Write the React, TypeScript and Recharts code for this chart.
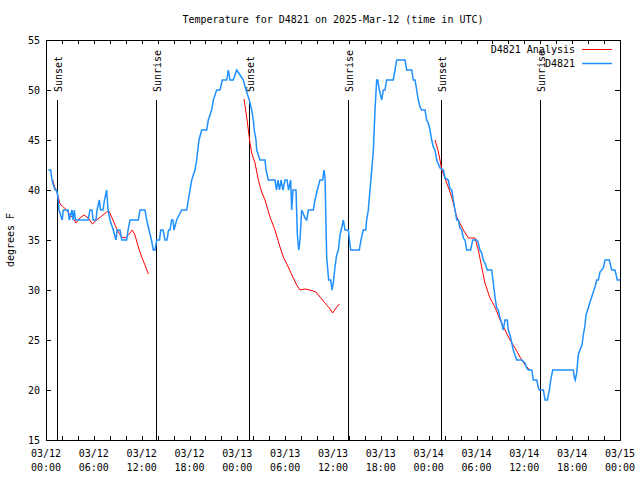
import React from 'react';
import { LineChart, Line, XAxis, YAxis, ReferenceArea, ReferenceLine } from 'recharts';

// ---- data ----
const obsHours = [0.29,0.59,0.75,1.13,1.34,1.54,1.63,2.04,2.17,2.76,2.92,3.26,3.39,3.55,3.70,5.27,5.52,5.77,5.90,6.27,6.40,6.69,6.84,7.15,7.34,7.61,7.78,8.03,8.44,8.78,8.91,9.28,9.50,10.12,10.29,10.54,11.58,11.79,12.42,12.63,12.92,13.23,13.46,13.67,13.89,14.24,14.39,14.68,14.93,15.18,15.37,15.55,15.76,15.93,16.06,16.39,17.02,17.65,17.85,18.28,18.69,18.90,19.19,19.53,20.16,20.36,20.78,20.99,21.41,21.83,22.11,22.67,22.87,23.08,23.49,23.92,24.34,24.75,25.09,25.50,25.80,26.00,26.13,26.34,26.43,26.84,27.47,27.60,27.88,28.72,28.91,29.10,29.29,29.48,29.73,29.98,30.23,30.42,30.69,30.82,30.98,31.36,31.53,31.70,31.86,32.07,32.24,32.49,32.70,32.91,33.53,33.74,34.03,34.37,34.71,34.87,35.00,35.21,35.46,35.71,35.88,36.04,36.25,36.46,36.67,36.88,37.09,37.30,37.51,37.92,38.22,39.30,39.51,39.80,40.10,40.22,40.43,40.64,40.86,41.06,41.27,41.48,41.61,41.81,42.11,42.31,42.52,42.73,43.56,43.78,43.99,45.03,45.25,45.87,46.07,46.29,46.50,46.70,46.91,47.13,47.54,47.75,47.95,48.17,48.38,48.58,48.80,49.01,49.42,49.84,50.05,50.46,50.68,50.89,51.09,51.30,51.52,51.72,51.93,52.14,52.35,52.56,52.77,53.27,53.52,54.02,54.19,54.43,54.65,54.85,55.06,55.35,55.90,56.11,56.32,56.53,56.73,56.95,57.16,57.36,57.57,57.86,57.99,58.20,58.41,58.61,59.04,59.66,60.08,60.29,60.50,60.93,61.13,61.56,61.77,61.89,62.39,62.60,62.89,63.14,63.31,63.56,66.14,66.27,66.39,66.57,66.77,66.98,67.23,67.40,67.61,67.74,68.02,68.24,68.45,68.65,68.86,69.08,69.28,69.49,69.70,69.91,70.12,70.66,70.96,71.37,71.66,72.0];
const obsTemps = [42,42,41,40,40,39,38,37,38,38,37,38,37,38,37,37,38,38,37,37,38,39,38,38,39,40,38,37,36,35,36,36,35,35,36,37,37,38,38,37,36,35,34,34,35,35,36,36,35,35,36,36,37,37,36,37,38,38,39,41,42,43,45,46,46,47,48,49,50,50,51,51,52,51,51,52,51.5,51,50,49,48,47,46,45,44,43,43,42,41,41,40,41,40,41,40,41,41,40,41,38,40,40,35.5,34,35,38,37.7,37.2,37,38,38,39,40,41,41,42,41.3,33.2,31,31,30,30.7,32.3,33.5,34,35.5,36.2,37,36,36,34,34,35,36,36,37,38,40,42,44,48,51,51,50,49,50,50,51,51,52,53,53,52,52,51,51,50,49,48.3,48,48,47,46.7,46,45,44.3,44,43,42.2,42,41.2,41,40.1,40,39,38,37,37,36.2,36,35.2,35,34,34,35,35,34.8,34,33.7,33,32.7,32,32,30.7,29.3,28.2,28,27.2,26.7,26,27,27,26,25.5,24.8,24,23,23,22.7,22.2,22,22,21,21,20.2,20,20,19,19,20,21,22,22,21.3,21,21.7,23.5,24,24.5,25.5,26.5,27.5,28.2,28.8,29.3,29.8,30.3,31,31,31.8,32,32.2,33,33,32,32,31,31];

const anaHours1 = [0.84,1.13,1.34,1.54,1.76,2.17,2.60,3.01,3.42,3.76,4.26,4.77,5.31,5.81,6.36,6.99,7.61,7.90,8.24,8.66,9.07,9.50,9.91,10.32,10.83,11.16,11.58,12.00,12.42,12.83];
const anaTemps1 = [41,40.2,39.9,39.3,38.6,38.3,38,37.5,37.2,36.7,37.2,37.5,37.2,36.6,37,37.4,37.8,37.9,37.3,36.5,35.8,35.3,35.2,35.5,36,35.5,34.3,33.3,32.5,31.6];
const anaHours2 = [24.84,25.17,25.38,25.59,25.80,26.22,26.63,27.05,27.47,28.10,28.72,29.35,29.77,30.39,31.02,31.45,31.86,32.49,33.12,33.87,34.37,35.00,35.54,35.96,36.38,36.79];
const anaTemps2 = [49.1,47.3,46,44.7,43.7,42.7,41,39.8,39,37.3,36,34.3,33.3,32.3,31.2,30.5,30,30.1,30,29.8,29.3,28.7,28.2,27.7,28.2,28.6];
const anaHours3 = [48.80,49.17,49.42,49.64,50.05,50.89,51.52,52.35,52.98,53.81,54.23,54.65,55.06,55.69,56.32,56.95,57.57,58.20,58.83,59.45,60.08,60.70];
const anaTemps3 = [45,44,43,42,41.2,39.3,37.3,36,35.2,35.2,34,32.3,30.7,29.2,28.3,27,26,25,24.2,23.3,22.5,22];

const sunHours = [1.38, 13.8, 25.46, 37.88, 49.55, 61.97];
const sunLabels = ['Sunset', 'Sunrise', 'Sunset', 'Sunrise', 'Sunset', 'Sunrise'];

const xTicks = Array.from({ length: 37 }, (_, i) => i * 2);
const tickDates = ['03/12','03/12','03/12','03/12','03/13','03/13','03/13','03/13','03/14','03/14','03/14','03/14','03/15'];
const tickTimes = ['00:00','06:00','12:00','18:00','00:00','06:00','12:00','18:00','00:00','06:00','12:00','18:00','00:00'];
const yTicks = [15, 20, 25, 30, 35, 40, 45, 50, 55];

const toRows = (hs: number[], ts: number[]) => hs.map((h, i) => ({ h, t: ts[i] }));
const obsData = toRows(obsHours, obsTemps);
const ana1 = toRows(anaHours1, anaTemps1);
const ana2 = toRows(anaHours2, anaTemps2);
const ana3 = toRows(anaHours3, anaTemps3);

// ---- layout ----
const W = 640, H = 480;
const PL = 46, PR = 620, PT = 40, PB = 440;
const FONT = '"DejaVu Sans Mono", "Liberation Mono", monospace';
const BLUE = '#1E90FF';
const RED = '#FF0000';

function XTick(props: any) {
  const { x, payload } = props;
  const v = payload.value as number;
  const idx = v / 6;
  const xx = Math.round(x) + 0.5;
  return (
    <g>
      <line x1={xx} y1={PB} x2={xx} y2={PB - 4} stroke="#000" />
      <line x1={xx} y1={PT} x2={xx} y2={PT + 4} stroke="#000" />
      {Number.isInteger(idx) && (
        <text x={x} y={PB + 17} textAnchor="middle" fontFamily={FONT} fontSize={10} fill="#000">
          <tspan x={x}>{tickDates[idx]}</tspan>
          <tspan x={x} dy={14}>{tickTimes[idx]}</tspan>
        </text>
      )}
    </g>
  );
}

function YTick(props: any) {
  const { y, payload } = props;
  const yy = Math.round(y) + 0.5;
  return (
    <g>
      <line x1={PL} y1={yy} x2={PL + 5} y2={yy} stroke="#000" />
      <line x1={PR} y1={yy} x2={PR - 5} y2={yy} stroke="#000" />
      <text x={PL - 6} y={y + 4} textAnchor="end" fontFamily={FONT} fontSize={10} fill="#000">
        {payload.value}
      </text>
    </g>
  );
}

function sunShape(label: string) {
  return (p: any) => {
    const x = Math.round(p.x1) + 0.5;
    const top = Math.min(p.y1, p.y2);
    const bot = Math.max(p.y1, p.y2);
    return (
      <g>
        <line x1={x} y1={top} x2={x} y2={bot} stroke="#000" strokeWidth={1} />
        <text
          x={x + 4}
          y={top - 8}
          transform={`rotate(-90 ${x + 4} ${top - 8})`}
          textAnchor="start"
          fontFamily={FONT}
          fontSize={10}
          fill="#000"
        >
          {label}
        </text>
      </g>
    );
  };
}

export default function App() {
  return (
    <div style={{ position: 'absolute', left: 0, top: 0, width: W, height: H, background: '#fff' }}>
      <LineChart width={W} height={H} margin={{ top: PT, right: W - PR, bottom: 0, left: 0 }}>
        <XAxis
          dataKey="h"
          type="number"
          domain={[0, 72]}
          allowDataOverflow
          ticks={xTicks}
          interval={0}
          tickSize={0}
          tickMargin={0}
          height={H - PB}
          axisLine={false}
          tickLine={false}
          tick={<XTick />}
        />
        <YAxis
          type="number"
          domain={[15, 55]}
          allowDataOverflow
          ticks={yTicks}
          interval={0}
          tickSize={0}
          tickMargin={0}
          width={PL}
          axisLine={false}
          tickLine={false}
          tick={<YTick />}
        />
        {sunHours.map((h, i) => (
          <ReferenceLine
            key={i}
            segment={[{ x: h, y: 49 }, { x: h, y: 15 }]}
            stroke="#000"
            shape={sunShape(sunLabels[i])}
          />
        ))}
        <Line data={ana1} dataKey="t" stroke={RED} strokeWidth={1} dot={false} isAnimationActive={false} name="D4821 Analysis" />
        <Line data={ana2} dataKey="t" stroke={RED} strokeWidth={1} dot={false} isAnimationActive={false} legendType="none" />
        <Line data={ana3} dataKey="t" stroke={RED} strokeWidth={1} dot={false} isAnimationActive={false} legendType="none" />
        <Line data={obsData} dataKey="t" stroke={BLUE} strokeWidth={1.5} dot={false} isAnimationActive={false} name="D4821" />
        <ReferenceArea x1={0} x2={72} y1={15} y2={55} fill="none" stroke="#000" strokeWidth={1} shapeRendering="crispEdges" ifOverflow="visible" />
      </LineChart>
      <svg width={W} height={H} style={{ position: 'absolute', left: 0, top: 0, pointerEvents: 'none' }}>
        <text x={333} y={23} textAnchor="middle" fontFamily={FONT} fontSize={10} fill="#000">
          Temperature for D4821 on 2025-Mar-12 (time in UTC)
        </text>
        <text x={14} y={240} transform="rotate(-90 14 240)" textAnchor="middle" fontFamily={FONT} fontSize={10} fill="#000">
          degrees F
        </text>
        <text x={575} y={53} textAnchor="end" fontFamily={FONT} fontSize={10} fill="#000">D4821 Analysis</text>
        <line x1={582} y1={49.5} x2={612} y2={49.5} stroke={RED} strokeWidth={1} />
        <text x={575} y={67} textAnchor="end" fontFamily={FONT} fontSize={10} fill="#000">D4821</text>
        <line x1={582} y1={63.5} x2={612} y2={63.5} stroke={BLUE} strokeWidth={1.5} />
      </svg>
    </div>
  );
}
